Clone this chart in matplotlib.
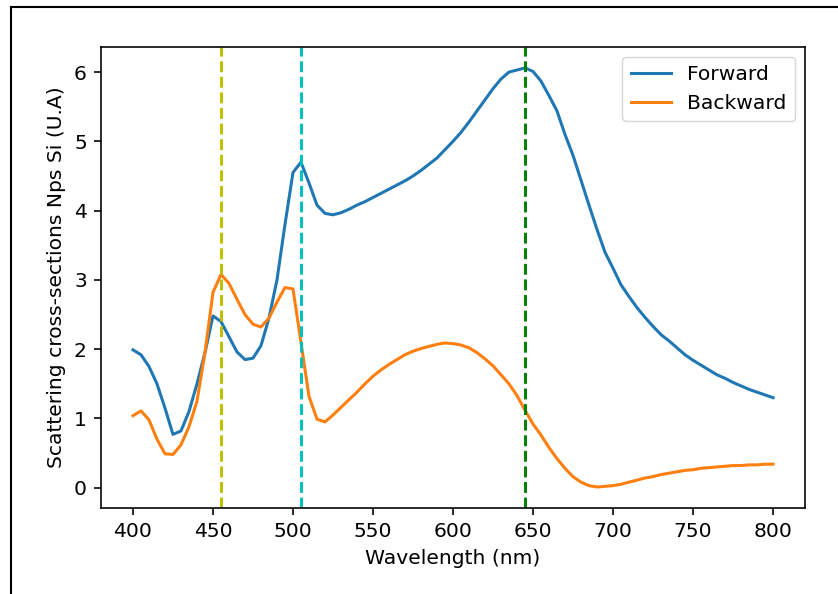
import numpy as np
import matplotlib
matplotlib.use('Agg')
import matplotlib.pyplot as plt
from matplotlib.lines import Line2D

# wavelength grid (nm), 5 nm step
wavelength = np.arange(400, 805, 5)

forward = [1.99, 1.92, 1.75, 1.50, 1.15, 0.77, 0.82, 1.10, 1.50, 1.95,
           2.48, 2.40, 2.18, 1.96, 1.85, 1.87, 2.05, 2.45, 3.00, 3.80,
           4.55, 4.70, 4.40, 4.08, 3.96, 3.94, 3.97, 4.02, 4.08, 4.13,
           4.19, 4.25, 4.31, 4.37, 4.43, 4.50, 4.58, 4.67, 4.76, 4.88,
           5.00, 5.13, 5.28, 5.44, 5.60, 5.76, 5.90, 6.00, 6.03, 6.06,
           6.01, 5.87, 5.66, 5.44, 5.10, 4.80, 4.44, 4.08, 3.73, 3.40,
           3.17, 2.93, 2.76, 2.60, 2.46, 2.33, 2.21, 2.12, 2.02, 1.92,
           1.84, 1.77, 1.70, 1.63, 1.58, 1.52, 1.47, 1.42, 1.38, 1.34,
           1.30]

backward = [1.04, 1.11, 0.98, 0.70, 0.49, 0.48, 0.62, 0.88, 1.25, 1.95,
            2.82, 3.08, 2.95, 2.72, 2.50, 2.36, 2.32, 2.45, 2.68, 2.89,
            2.87, 2.10, 1.32, 0.99, 0.95, 1.05, 1.16, 1.27, 1.38, 1.50,
            1.61, 1.70, 1.78, 1.85, 1.92, 1.97, 2.01, 2.04, 2.07, 2.09,
            2.08, 2.06, 2.02, 1.95, 1.86, 1.76, 1.63, 1.50, 1.33, 1.12,
            0.92, 0.76, 0.58, 0.42, 0.28, 0.16, 0.08, 0.03, 0.01, 0.02,
            0.03, 0.05, 0.08, 0.11, 0.14, 0.16, 0.19, 0.21, 0.23, 0.25,
            0.26, 0.28, 0.29, 0.30, 0.31, 0.32, 0.32, 0.33, 0.33, 0.34,
            0.34]

# resonance markers (nm)
markers = [455, 505, 645]
marker_colors = ['y', 'c', 'g']

s = 1.46  # scale of the original render
plt.rcParams['font.size'] = 10 * s
plt.rcParams['axes.linewidth'] = 0.8 * s
plt.rcParams['axes.labelpad'] = 4 * s
for a in ('xtick', 'ytick'):
    plt.rcParams[a + '.major.size'] = 3.5 * s
    plt.rcParams[a + '.major.width'] = 0.8 * s
    plt.rcParams[a + '.major.pad'] = 3.5 * s

fig = plt.figure(figsize=(8.38, 5.94), dpi=100)
ax = fig.add_axes([0.1205, 0.1448, 0.8401, 0.7761])

ax.plot(wavelength, forward, lw=1.5 * s, label='Forward')
ax.plot(wavelength, backward, lw=1.5 * s, label='Backward')
for m, c in zip(markers, marker_colors):
    ax.axvline(m, color=c, ls='--', lw=1.45 * s)

ax.set_xlabel('Wavelength (nm)')
ax.set_ylabel('Scattering cross-sections Nps Si (U.A)')
ax.legend(loc='upper right')

# frame of the surrounding page
fig.add_artist(Line2D([0.0131, 0.0131], [0, 0.9874], color='black', lw=1.5))
fig.add_artist(Line2D([0.0131, 1.0], [0.9874, 0.9874], color='black', lw=1.5))

fig.savefig('out.png', dpi=100)
